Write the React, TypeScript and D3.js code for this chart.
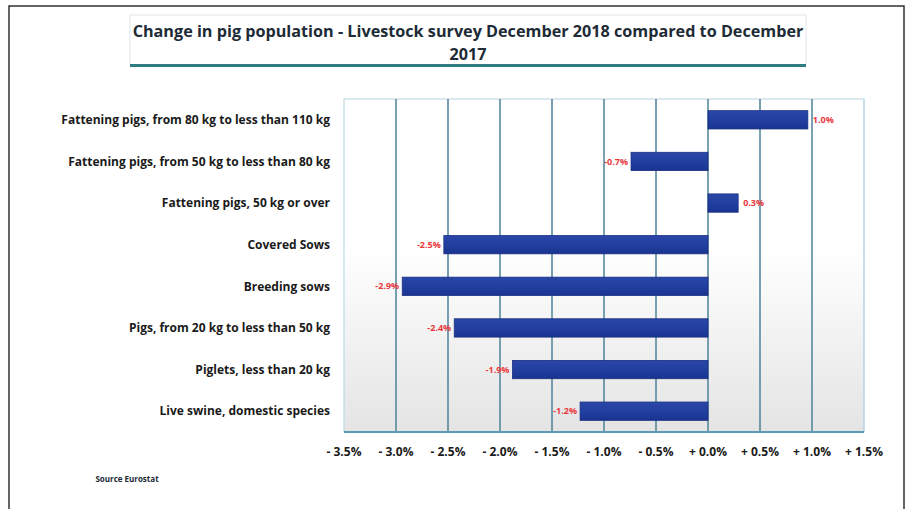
import React from "react";
import * as d3 from "d3";

const categories = [
  "Fattening pigs, from 80 kg to less than 110 kg",
  "Fattening pigs, from 50 kg to less than 80 kg",
  "Fattening pigs, 50 kg or over",
  "Covered Sows",
  "Breeding sows",
  "Pigs, from 20 kg to less than 50 kg",
  "Piglets, less than 20 kg",
  "Live swine, domestic species",
];
const changes = [0.96, -0.74, 0.29, -2.54, -2.94, -2.44, -1.88, -1.23];
const tickValues = [-3.5, -3.0, -2.5, -2.0, -1.5, -1.0, -0.5, 0.0, 0.5, 1.0, 1.5];
const titleLines = [
  "Change in pig population  - Livestock survey December 2018 compared to December",
  "2017",
];
const sourceText = "Source Eurostat";

const W = 911;
const H = 509;
const FONT = "'Open Sans', Lato, sans-serif";

export default function App() {
  const x = d3.scaleLinear().domain([-3.5, 1.5]).range([344, 864]);
  const y = d3.scaleBand<string>().domain(categories).range([99, 432]).paddingInner(0.56).paddingOuter(0.28);
  const fmtTick = (v: number) => (v < 0 ? "- " : "+ ") + Math.abs(v).toFixed(1) + "%";
  const fmtVal = (v: number) => v.toFixed(1) + "%";

  return (
    <svg width={W} height={H} style={{ position: "absolute", left: 0, top: 0, background: "#fff" }} fontFamily={FONT}>
      <defs>
        <linearGradient id="bg" x1="0" y1="0" x2="0" y2="1">
          <stop offset="0" stopColor="#ffffff" />
          <stop offset="0.45" stopColor="#ffffff" />
          <stop offset="1" stopColor="#e4e4e4" />
        </linearGradient>
        <linearGradient id="bar" x1="0" y1="0" x2="0" y2="1">
          <stop offset="0" stopColor="#2a46a8" />
          <stop offset="0.5" stopColor="#2240a0" />
          <stop offset="1" stopColor="#1a3390" />
        </linearGradient>
      </defs>
      {/* outer frame */}
      <rect x={9} y={6} width={895} height={H + 10} fill="none" stroke="#333" strokeWidth={1.5} />
      {/* title box */}
      <rect x={130} y={15} width={676} height={50} fill="#fff" stroke="#dde6ea" strokeWidth={1} />
      <line x1={130} x2={806} y1={65.5} y2={65.5} stroke="#2e7b82" strokeWidth={3} />
      {titleLines.map((t, i) => (
        <text key={i} x={468} y={37 + i * 23} textAnchor="middle" fontSize={16.2} fontWeight="bold" fill="#1d2b36">
          {t}
        </text>
      ))}
      {/* plot area */}
      <rect x={x(-3.5)} y={99} width={x(1.5) - x(-3.5)} height={333} fill="url(#bg)" stroke="#b5d3e2" strokeWidth={1} />
      {tickValues.slice(1, -1).map((v) => (
        <line key={v} x1={x(v)} x2={x(v)} y1={99} y2={432} stroke="#4d8298" strokeWidth={1.5} />
      ))}
      <line x1={x(1.5)} x2={x(1.5)} y1={99} y2={432} stroke="#b5d3e2" strokeWidth={1} />
      <line x1={x(-3.5)} x2={x(1.5)} y1={432} y2={432} stroke="#5a9ab4" strokeWidth={2} />
      {/* bars */}
      {categories.map((c, i) => {
        const v = changes[i];
        const x0 = x(Math.min(0, v));
        const x1 = x(Math.max(0, v));
        const yy = y(c)!;
        const bh = y.bandwidth();
        const cy = yy + bh / 2;
        return (
          <g key={c}>
            <rect x={x0} y={yy} width={x1 - x0} height={bh} fill="url(#bar)" stroke="#1a2f80" strokeWidth={0.8} />
            <text
              x={v < 0 ? x0 - 3 : x1 + 5}
              y={cy}
              dy="0.35em"
              textAnchor={v < 0 ? "end" : "start"}
              fontSize={9}
              fontWeight="bold"
              fill="#e8383c"
            >
              {fmtVal(v)}
            </text>
            <text x={330} y={cy} dy="0.35em" textAnchor="end" fontSize={12} fontWeight="bold" fill="#1a1a1a">
              {c}
            </text>
          </g>
        );
      })}
      {/* x tick labels */}
      {tickValues.map((v) => (
        <text key={v} x={x(v)} y={456} textAnchor="middle" fontSize={12} fontWeight="bold" fill="#1a1a1a">
          {fmtTick(v)}
        </text>
      ))}
      <text x={127} y={482} textAnchor="middle" fontSize={8} fontWeight="bold" fill="#1d2b36">
        {sourceText}
      </text>
    </svg>
  );
}
